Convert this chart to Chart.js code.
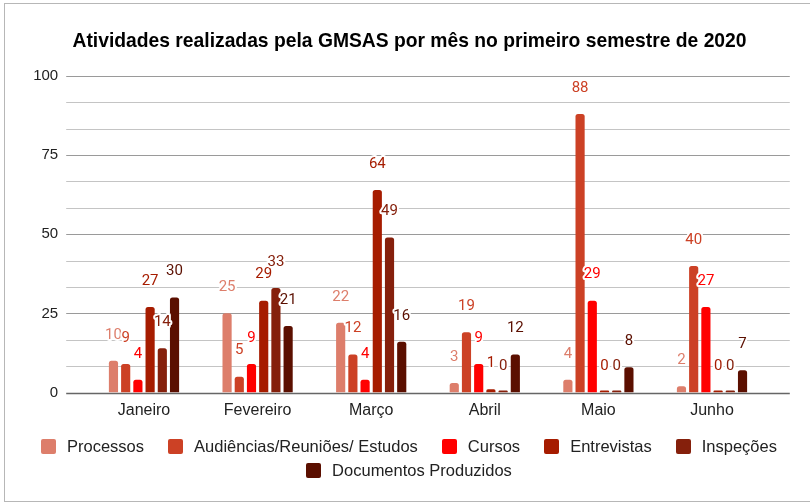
<!DOCTYPE html>
<html lang="pt-BR">
<head>
<meta charset="utf-8">
<title>Atividades GMSAS 2020</title>
<script src="https://cdn.jsdelivr.net/npm/chart.js@4.4.1/dist/chart.umd.min.js"></script>
<style>
  html, body { margin: 0; padding: 0; background: #fff; }
  #quadro { position: relative; width: 810px; height: 503px; overflow: hidden; }
  #moldura { position: absolute; left: 4px; top: 3px; width: 830px; height: 499px; border: 1px solid #b7b7b7; box-sizing: border-box; }
  canvas { position: absolute; left: 0; top: 0; }
  #legenda { position: absolute; left: 4px; top: 437px; width: 810px; display: flex; flex-wrap: wrap; justify-content: center; column-gap: 24px; row-gap: 6px; font: 16.5px "Liberation Sans", Arial, sans-serif; color: #222; line-height: 18px; }
  .item { display: flex; align-items: center; }
  .caixa { width: 15px; height: 15px; border-radius: 2px; margin-right: 11px; }
</style>
</head>
<body>
<div id="quadro">
  <div id="moldura"></div>
  <canvas id="graficoAtividades" width="810" height="503"></canvas>
  <div id="legenda"></div>
</div>
<script>
// Meses do semestre (categorias)
const meses = ['Janeiro', 'Fevereiro', 'Março', 'Abril', 'Maio', 'Junho'];

// Valores de cada série, mês a mês
const processos = [10, 25, 22, 3, 4, 2];
const audiencias = [9, 5, 12, 19, 88, 40];
const cursos = [4, 9, 4, 9, 29, 27];
const entrevistas = [27, 29, 64, 1, 0, 0];
const inspecoes = [14, 33, 49, 0, 0, 0];
const documentos = [30, 21, 16, 12, 8, 7];

// Nomes das séries
const nomesSeries = ['Processos', 'Audiências/Reuniões/ Estudos', 'Cursos', 'Entrevistas', 'Inspeções', 'Documentos Produzidos'];

// Marcas principais do eixo Y
const marcasY = [0, 25, 50, 75, 100];

const valoresSeries = [processos, audiencias, cursos, entrevistas, inspecoes, documentos];
const coresSeries = ['#dd7e6b', '#cc4125', '#ff0000', '#a61c00', '#85200c', '#5b0f00'];
const divisoesMenores = 3;

function ehPrincipal(v) {
    return marcasY.some(m => Math.abs(m - v) < 1e-6);
}

// Plugin para desenhar as linhas de grade (passam um pouco das barras, como no original)
const gradeEstendida = {
    id: 'gradeEstendida',
    beforeDatasetsDraw(chart) {
        const { ctx, chartArea, scales: { y } } = chart;
        const sobra = 21;
        ctx.save();
        y.ticks.forEach(t => {
            const py = Math.round(y.getPixelForValue(t.value)) + 0.5;
            if (t.value === 0) {
                ctx.strokeStyle = '#666666';
                ctx.lineWidth = 1.5;
            } else if (ehPrincipal(t.value)) {
                ctx.strokeStyle = '#9a9a9a';
                ctx.lineWidth = 1.2;
            } else {
                ctx.strokeStyle = '#c4c4c4';
                ctx.lineWidth = 1.2;
            }
            ctx.beginPath();
            ctx.moveTo(chartArea.left - sobra, py);
            ctx.lineTo(chartArea.right + sobra, py);
            ctx.stroke();
        });
        ctx.restore();
    }
};

// Plugin para escrever o valor acima de cada barra
const rotulosValores = {
    id: 'rotulosValores',
    afterDatasetsDraw(chart) {
        const { ctx, scales: { y } } = chart;
        ctx.save();
        ctx.font = '15px Roboto';
        ctx.textAlign = 'center';
        ctx.textBaseline = 'middle';
        ctx.lineJoin = 'round';
        chart.data.datasets.forEach((ds, i) => {
            const meta = chart.getDatasetMeta(i);
            meta.data.forEach((barra, j) => {
                const valor = ds.data[j];
                const py = y.getPixelForValue(valor) - 26;
                ctx.lineWidth = 4;
                ctx.strokeStyle = '#ffffff';
                ctx.strokeText(String(valor), barra.x, py);
                ctx.fillStyle = ds.backgroundColor;
                ctx.fillText(String(valor), barra.x, py);
            });
        });
        ctx.restore();
    }
};

const ctxAtividades = document.getElementById('graficoAtividades').getContext('2d');
new Chart(ctxAtividades, {
    type: 'bar',
    data: {
        labels: meses,
        datasets: nomesSeries.map((nome, i) => ({
            label: nome,
            data: valoresSeries[i],
            backgroundColor: coresSeries[i],
            borderRadius: 2.5,
            borderSkipped: 'start',
            minBarLength: 2,
            barPercentage: 0.75,
            categoryPercentage: 0.645
        }))
    },
    options: {
        responsive: false,
        animation: false,
        devicePixelRatio: 1,
        layout: { padding: { left: 9, right: 0, top: 0, bottom: 83 } },
        plugins: {
            legend: { display: false },
            tooltip: { enabled: false },
            title: {
                display: true,
                text: 'Atividades realizadas pela GMSAS por mês no primeiro semestre de 2020',
                color: '#000000',
                font: { family: 'Liberation Sans', size: 19.3, weight: 'bold' },
                padding: { top: 30.4, bottom: 22.4 }
            }
        },
        scales: {
            x: {
                grid: { display: false, drawTicks: false },
                border: { display: false },
                ticks: {
                    color: '#222222',
                    font: { family: 'Liberation Sans', size: 16 },
                    padding: 8
                },
                afterFit(escala) { escala.height = 27.5; }
            },
            y: {
                min: 0,
                max: 100,
                grid: { display: false, drawTicks: false },
                border: { display: false },
                afterBuildTicks(escala) {
                    const marcas = [];
                    for (let i = 0; i < marcasY.length - 1; i++) {
                        const passo = (marcasY[i + 1] - marcasY[i]) / divisoesMenores;
                        for (let k = 0; k < divisoesMenores; k++) {
                            marcas.push({ value: marcasY[i] + k * passo });
                        }
                    }
                    marcas.push({ value: marcasY[marcasY.length - 1] });
                    escala.ticks = marcas;
                },
                afterFit(escala) { escala.width = 78.2; },
                ticks: {
                    autoSkip: false,
                    color: '#222222',
                    font: { family: 'Liberation Sans', size: 15 },
                    padding: 29,
                    callback: v => ehPrincipal(v) ? String(Math.round(v)) : ''
                }
            },
            // eixo vazio à direita, só para reservar a margem
            margemDireita: {
                type: 'linear',
                position: 'right',
                grid: { display: false, drawTicks: false },
                border: { display: false },
                ticks: { display: false },
                afterFit(escala) { escala.width = 41.2; }
            }
        }
    },
    plugins: [gradeEstendida, rotulosValores]
});

// Legenda em HTML (duas linhas, como no original)
const legenda = document.getElementById('legenda');
nomesSeries.forEach((nome, i) => {
    const item = document.createElement('div');
    item.className = 'item';
    const caixa = document.createElement('span');
    caixa.className = 'caixa';
    caixa.style.background = coresSeries[i];
    const texto = document.createElement('span');
    texto.textContent = nome;
    item.appendChild(caixa);
    item.appendChild(texto);
    legenda.appendChild(item);
});
</script>
</body>
</html>
